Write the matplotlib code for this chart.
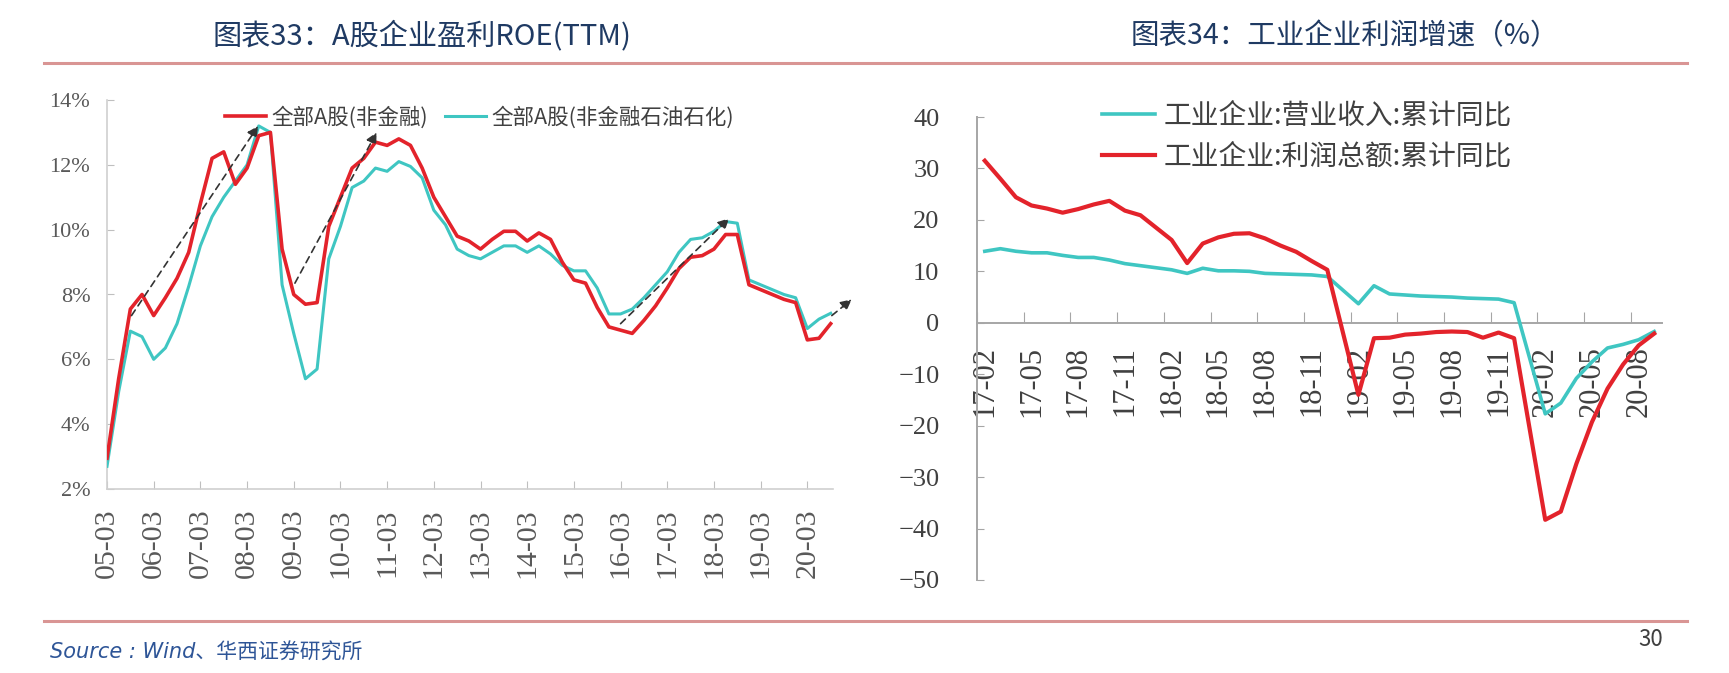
import numpy as np
import matplotlib
matplotlib.use("Agg")
import matplotlib.pyplot as plt
from matplotlib.lines import Line2D

plt.rcParams['font.family'] = ['Liberation Serif', 'Noto Sans CJK SC']
plt.rcParams['axes.unicode_minus'] = True

CJK = ['Noto Sans CJK SC', 'DejaVu Sans']

# -----------------------------------
# 图表33 data (quarterly, 05-03 ... 20-09)
# -----------------------------------
ROE_TICK_LABELS = ['05-03', '06-03', '07-03', '08-03', '09-03', '10-03', '11-03', '12-03',
                   '13-03', '14-03', '15-03', '16-03', '17-03', '18-03', '19-03', '20-03']

ROE_NONFIN = [2.95, 5.4, 7.55, 8.0, 7.35, 7.9, 8.5, 9.3, 10.8, 12.2,
              12.4, 11.4, 11.9, 12.9, 13.0, 9.4, 8.0, 7.7, 7.75, 10.1,
              11.0, 11.9, 12.2, 12.7, 12.6, 12.8, 12.6, 11.9, 11.0, 10.4,
              9.8, 9.65, 9.4, 9.7, 9.95, 9.95, 9.65, 9.9, 9.7, 9.0,
              8.45, 8.35, 7.6, 7.0, 6.9, 6.8, 7.2, 7.65, 8.2, 8.8,
              9.15, 9.2, 9.4, 9.85, 9.85, 8.3, 8.15, 8.0, 7.85, 7.75,
              6.6, 6.65, 7.1]

ROE_NONFIN_EX_PETRO = [2.7, 5.0, 6.87, 6.7, 6.0, 6.35, 7.1, 8.25, 9.5, 10.4,
                       11.0, 11.5, 12.0, 13.2, 13.0, 8.3, 6.8, 5.4, 5.7, 9.1,
                       10.1, 11.3, 11.5, 11.9, 11.8, 12.1, 11.95, 11.6, 10.6, 10.15,
                       9.4, 9.2, 9.1, 9.3, 9.5, 9.5, 9.3, 9.5, 9.25, 8.9,
                       8.73, 8.73, 8.2, 7.4, 7.4, 7.55, 7.9, 8.3, 8.7, 9.3,
                       9.7, 9.75, 9.95, 10.25, 10.2, 8.45, 8.3, 8.15, 8.0, 7.9,
                       6.95, 7.24, 7.42]

# trend arrows: (start quarter, start %), (end quarter, end %)
ROE_ARROWS = [((2.1, 7.35), (12.95, 13.2)),
              ((16.1, 8.35), (23.1, 13.0)),
              ((44.0, 7.1), (53.3, 10.35)),
              ((62.1, 7.35), (63.8, 7.85))]

# -----------------------------------
# 图表34 data (monthly cumulative YoY, Jan merged into Feb)
# -----------------------------------
IND_MONTHS = ['17-02', '17-03', '17-04', '17-05', '17-06', '17-07', '17-08', '17-09', '17-10', '17-11', '17-12',
              '18-02', '18-03', '18-04', '18-05', '18-06', '18-07', '18-08', '18-09', '18-10', '18-11', '18-12',
              '19-02', '19-03', '19-04', '19-05', '19-06', '19-07', '19-08', '19-09', '19-10', '19-11', '19-12',
              '20-02', '20-03', '20-04', '20-05', '20-06', '20-07', '20-08', '20-09']

REVENUE_YOY = [13.9, 14.4, 13.9, 13.6, 13.6, 13.1, 12.7, 12.7, 12.2, 11.5, 11.1,
               10.3, 9.6, 10.6, 10.1, 10.1, 10.0, 9.6, 9.5, 9.4, 9.3, 9.0,
               3.7, 7.2, 5.6, 5.4, 5.2, 5.1, 5.0, 4.8, 4.7, 4.6, 3.9,
               -17.7, -15.6, -10.8, -7.6, -4.9, -4.2, -3.3, -1.7]

PROFIT_YOY = [31.5, 28.0, 24.4, 22.8, 22.2, 21.4, 22.1, 23.0, 23.7, 21.8, 20.9,
              16.1, 11.6, 15.4, 16.6, 17.3, 17.4, 16.4, 15.0, 13.8, 12.0, 10.3,
              -14.0, -3.0, -2.9, -2.3, -2.1, -1.8, -1.7, -1.8, -2.9, -1.9, -3.0,
              -38.3, -36.7, -27.4, -19.3, -12.8, -8.1, -4.4, -2.1]

IND_TICK_LABELS = ['17-02', '17-05', '17-08', '17-11', '18-02', '18-05', '18-08', '18-11',
                   '19-02', '19-05', '19-08', '19-11', '20-02', '20-05', '20-08']

RED = '#E3232B'
CYAN = '#3FC6C2'
NAVY = '#1F3A63'
RULE = '#D99594'


def month_pos(label):
    yy, mm = label.split('-')
    return (int(yy) - 17) * 12 + int(mm) - 2


W, H = 1729, 673
fig = plt.figure(figsize=(W / 100, H / 100), dpi=100)


def fx(px):
    return px / W


def fy(py):
    return 1 - py / H


# -----------------------------------
# Titles, rules, footer
# -----------------------------------
fig.text(fx(422), fy(36), '图表33：A股企业盈利ROE(TTM)', ha='center', va='center',
         fontsize=21, color=NAVY, family=CJK)
fig.text(fx(1345), fy(36), '图表34：工业企业利润增速（%）', ha='center', va='center',
         fontsize=20.5, color=NAVY, family=CJK)
fig.add_artist(Line2D([fx(44), fx(1687)], [fy(63), fy(63)], color=RULE, lw=2.2))
fig.add_artist(Line2D([fx(44), fx(1687)], [fy(621), fy(621)], color=RULE, lw=2.2))
fig.text(fx(50), fy(653), 'Source : Wind、华西证券研究所', ha='left', va='center',
         fontsize=15, color='#2E5597', style='italic', family=['DejaVu Sans', 'Noto Sans CJK SC'])
fig.text(fx(1651), fy(640), '30', ha='center', va='center', fontsize=16,
         color='#404040', family=CJK)

# -----------------------------------
# Left chart: ROE
# -----------------------------------
ax1 = fig.add_axes([fx(107), fy(489), fx(833) - fx(107), fy(100) - fy(489)])
q = np.arange(len(ROE_NONFIN))
ax1.plot(q, ROE_NONFIN, color=RED, lw=2.6, label='全部A股(非金融)', zorder=4)
ax1.plot(q, ROE_NONFIN_EX_PETRO, color=CYAN, lw=2.2, label='全部A股(非金融石油石化)', zorder=3)

for (x0, y0), (x1, y1) in ROE_ARROWS:
    ax1.annotate('', xy=(x1, y1), xytext=(x0, y0), annotation_clip=False,
                 arrowprops=dict(arrowstyle='-|>', linestyle=(0, (4, 3)), color='#333333',
                                 lw=1.2, mutation_scale=16, shrinkA=0, shrinkB=0), zorder=5)

ax1.set_xlim(0, 62.2)
ax1.set_ylim(2, 14)
ax1.set_yticks(np.arange(2, 15, 2))
ax1.set_yticklabels([f'{v}%' for v in range(2, 15, 2)])
ax1.set_xticks(np.arange(len(ROE_TICK_LABELS)) * 4)
ax1.set_xticklabels(ROE_TICK_LABELS, rotation=90)
for s in ['top', 'right']:
    ax1.spines[s].set_visible(False)
for s in ['left', 'bottom']:
    ax1.spines[s].set_color('#D0D0D0')
    ax1.spines[s].set_linewidth(1.2)
ax1.tick_params(axis='y', direction='in', length=5, color='#BFBFBF', labelsize=16,
                labelcolor='#595959', pad=12)
ax1.tick_params(axis='x', direction='in', length=6, color='#BFBFBF', labelsize=21.5,
                labelcolor='#595959', pad=14)

ax1.legend(ncol=2, loc='upper left', bbox_to_anchor=(fx(225), fy(106)),
           bbox_transform=fig.transFigure, frameon=False, borderpad=0, borderaxespad=0,
           handlelength=1.9, handletextpad=0.25, columnspacing=0.8,
           prop={'family': CJK, 'size': 15.5}, labelcolor='#404040')

# -----------------------------------
# Right chart: industrial profit
# -----------------------------------
ax2 = fig.add_axes([fx(977), fy(580), fx(1662) - fx(977), fy(117) - fy(580)])
m = np.array([month_pos(s) for s in IND_MONTHS])
ax2.plot(m, REVENUE_YOY, color=CYAN, lw=2.6, label='工业企业:营业收入:累计同比', zorder=3)
ax2.plot(m, PROFIT_YOY, color=RED, lw=3.0, label='工业企业:利润总额:累计同比', zorder=4)

ax2.set_xlim(-0.5, 43.5)
ax2.set_ylim(-50, 40)
ax2.set_yticks(np.arange(-50, 41, 10))
ax2.spines['bottom'].set_position(('data', 0))
for s in ['top', 'right']:
    ax2.spines[s].set_visible(False)
for s in ['left', 'bottom']:
    ax2.spines[s].set_color('#A6A6A6')
    ax2.spines[s].set_linewidth(1.4)

tick_pos = [month_pos(s) for s in IND_TICK_LABELS]
ax2.set_xticks([p - 0.5 for p in tick_pos])
ax2.set_xticklabels([])
ax2.set_xticks(tick_pos, minor=True)
ax2.set_xticklabels(IND_TICK_LABELS, minor=True, rotation=90)
ax2.tick_params(axis='x', which='major', direction='in', length=8, color='#A6A6A6')
ax2.tick_params(axis='x', which='minor', length=0, labelsize=22, labelcolor='#404040', pad=17)
ax2.tick_params(axis='y', direction='in', length=5, color='#A6A6A6', labelsize=19,
                labelcolor='#404040', pad=27)

ax2.legend(loc='upper left', bbox_to_anchor=(fx(1102), fy(101)),
           bbox_transform=fig.transFigure, frameon=False, borderpad=0, borderaxespad=0,
           handlelength=1.9, handletextpad=0.3, labelspacing=0.38,
           prop={'family': CJK, 'size': 20}, labelcolor='#404040')

fig.savefig('out.png', dpi=100)
